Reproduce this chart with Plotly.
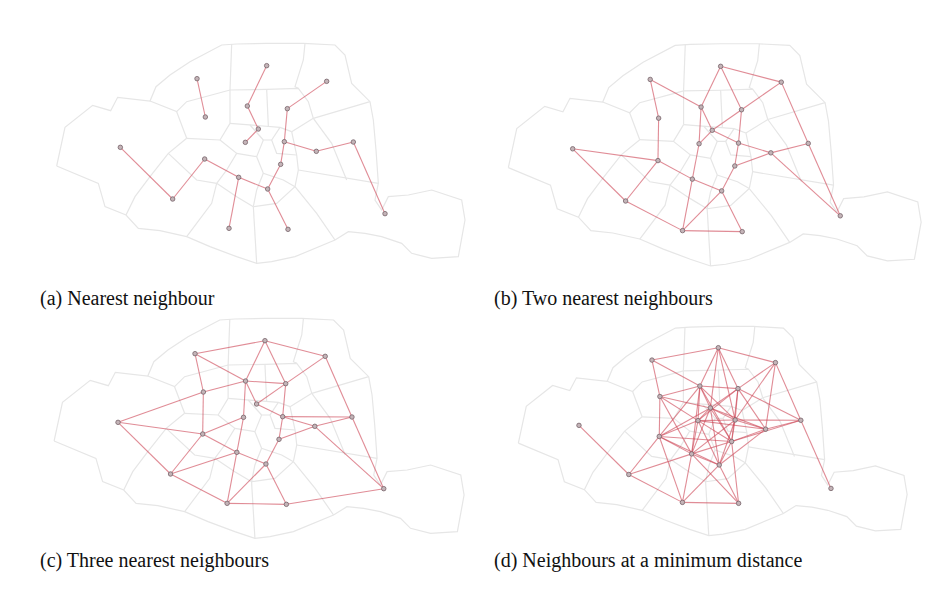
import math

import plotly.graph_objects as go

# Arrondissement centroids in map units (x to the east, y down the page)
arrondissements = list(range(1, 21))
centre_x = [586, 625, 703, 692, 653, 566, 464, 466, 592, 712, 799, 1005, 714, 537, 368, 211, 441, 650, 830, 910]
centre_y = [307, 267, 305, 373, 447, 412, 357, 231, 198, 206, 334, 521, 568, 565, 477, 322, 116, 77, 124, 306]

# Graph edges, by arrondissement number
edges_nearest = [(17, 8), (18, 9), (9, 2), (2, 1), (19, 10), (10, 3), (3, 11), (11, 20), (20, 12),
                 (3, 4), (4, 5), (16, 15), (15, 7), (7, 6), (6, 5), (6, 14), (5, 13)]
edges_two = [(17, 8), (17, 9), (8, 7), (18, 9), (18, 10), (18, 19), (19, 10), (10, 2), (19, 20),
             (9, 2), (9, 1), (2, 3), (3, 11), (11, 20), (11, 12), (20, 12), (1, 2), (10, 3), (3, 4),
             (4, 11), (4, 5), (5, 14), (5, 13), (14, 13), (6, 5), (7, 6), (16, 7), (16, 15), (15, 7),
             (15, 14), (1, 6), (6, 14)]
edges_three = [(17, 18), (17, 9), (17, 8), (18, 9), (18, 10), (18, 19), (19, 10), (19, 20), (9, 10),
               (9, 2), (9, 8), (9, 1), (8, 16), (8, 7), (10, 2), (10, 3), (2, 3), (1, 7), (1, 6),
               (6, 14), (3, 20), (3, 11), (11, 20), (11, 4), (3, 4), (4, 5), (11, 12), (20, 12),
               (16, 7), (16, 15), (7, 15), (7, 6), (6, 15), (6, 5), (15, 14), (5, 14), (5, 13),
               (14, 13), (13, 12)]
min_distance = 236  # map units

# Paris outline and arrondissement borders (map units)
outline = [(20, 378), (45, 262), (128, 196), (182, 212), (203, 172), (300, 183), (318, 140), (360, 105),
           (420, 65), (475, 35), (515, 15), (560, 12), (650, 10), (760, 10), (855, 15), (885, 45),
           (905, 130), (960, 185), (970, 240), (978, 330), (985, 430), (975, 480), (995, 510),
           (1015, 470), (1075, 465), (1145, 450), (1235, 480), (1245, 540), (1225, 650), (1145, 655),
           (1085, 640), (1055, 610), (995, 590), (945, 580), (895, 575), (855, 600), (785, 630),
           (735, 650), (665, 665), (620, 670), (560, 650), (480, 620), (410, 590), (330, 572),
           (265, 565), (228, 525), (165, 500), (145, 430), (20, 378)]
borders = [
    [(545, 12), (540, 150)],
    [(765, 10), (760, 60), (735, 140), (745, 145)],
    [(300, 183), (380, 215), (410, 185), (540, 150), (650, 148), (745, 145), (775, 185), (790, 235)],
    [(790, 235), (960, 185)],
    [(380, 215), (410, 295)],
    [(540, 150), (540, 250)],
    [(650, 148), (655, 258)],
    [(540, 250), (600, 255), (655, 258), (690, 262), (725, 275)],
    [(725, 275), (790, 235)],
    [(410, 295), (510, 300), (540, 250)],
    [(410, 295), (355, 340), (300, 410), (255, 470), (228, 525)],
    [(355, 340), (440, 420), (500, 430)],
    [(510, 300), (560, 340), (530, 390), (500, 430)],
    [(500, 430), (485, 490), (410, 590)],
    [(500, 430), (560, 470), (610, 500)],
    [(610, 500), (620, 670)],
    [(610, 500), (680, 490), (735, 440)],
    [(735, 440), (800, 520), (855, 600)],
    [(745, 390), (860, 410), (985, 430)],
    [(790, 235), (845, 310), (890, 420)],
    [(725, 275), (740, 345), (745, 390), (735, 440)],
    [(600, 255), (640, 300)],
    [(690, 262), (665, 300)],
    [(560, 340), (620, 350), (640, 300), (665, 300), (680, 340), (740, 345)],
    [(620, 350), (640, 400), (700, 420), (735, 440)],
    [(640, 400), (620, 450), (610, 500)],
]

captions = ["(a) Nearest neighbour", "(b) Two nearest neighbours",
            "(c) Three nearest neighbours", "(d) Neighbours at a minimum distance"]


def dist(a, b):
    i, j = a - 1, b - 1
    return math.hypot(centre_x[i] - centre_x[j], centre_y[i] - centre_y[j])


edges_distance = [(a, b) for a in arrondissements for b in arrondissements
                  if a < b and dist(a, b) <= min_distance]


def line_xy(polylines):
    xs, ys = [], []
    for line in polylines:
        xs += [p[0] for p in line] + [None]
        ys += [p[1] for p in line] + [None]
    return xs, ys


def edge_xy(edges):
    xs, ys = [], []
    for a, b in edges:
        xs += [centre_x[a - 1], centre_x[b - 1], None]
        ys += [centre_y[a - 1], centre_y[b - 1], None]
    return xs, ys


# pixel boxes (left, right, top, bottom) of each map on the page
W, H = 945, 598
OFF = 8  # the page body margin pushes the figure 8px right and down
panels = [
    (edges_nearest, (50, 470, 40, 270), (38, 298)),
    (edges_two, (501.6, 926.2, 40.4, 272.7), (492, 298)),
    (edges_three, (47.4, 469.1, 315, 545), (38, 560)),
    (edges_distance, (512.0, 911.9, 323.3, 542.0), (492, 560)),
]


def fx(px):
    return (px - OFF) / W


def fy(py):
    return 1 - (py - OFF) / H


fig = go.Figure()
map_x, map_y = line_xy([outline] + borders)
for k, (edges, box, cap) in enumerate(panels):
    suffix = '' if k == 0 else str(k + 1)
    xa, ya = 'x' + suffix, 'y' + suffix
    fig.add_trace(go.Scatter(x=map_x, y=map_y, mode='lines', xaxis=xa, yaxis=ya,
                             line=dict(color='#e6e6e6', width=1.2), hoverinfo='skip'))
    ex, ey = edge_xy(edges)
    fig.add_trace(go.Scatter(x=ex, y=ey, mode='lines', xaxis=xa, yaxis=ya,
                             line=dict(color='rgba(205,70,85,0.62)', width=1.1), hoverinfo='skip'))
    fig.add_trace(go.Scatter(x=centre_x, y=centre_y, mode='markers', xaxis=xa, yaxis=ya,
                             text=arrondissements,
                             marker=dict(size=4.5, color='#c4b4b8',
                                         line=dict(color='#76636a', width=0.8))))
    left, right, top, bottom = box
    axis = dict(showgrid=False, zeroline=False, showticklabels=False, ticks='', showline=False)
    fig.layout['xaxis' + suffix] = dict(axis, range=[0, 1260], domain=[fx(left), fx(right)])
    fig.layout['yaxis' + suffix] = dict(axis, range=[690, 0], domain=[fy(bottom), fy(top)])
    fig.add_annotation(text=captions[k], xref='paper', yref='paper', x=fx(cap[0]), y=fy(cap[1]),
                       xanchor='left', yanchor='middle', showarrow=False,
                       font=dict(family='Liberation Serif, Times New Roman, serif', size=20, color='#111111'))

fig.update_layout(width=W, height=H, margin=dict(l=0, r=0, t=0, b=0),
                  paper_bgcolor='white', plot_bgcolor='white', showlegend=False)
fig.write_html("out.html")
